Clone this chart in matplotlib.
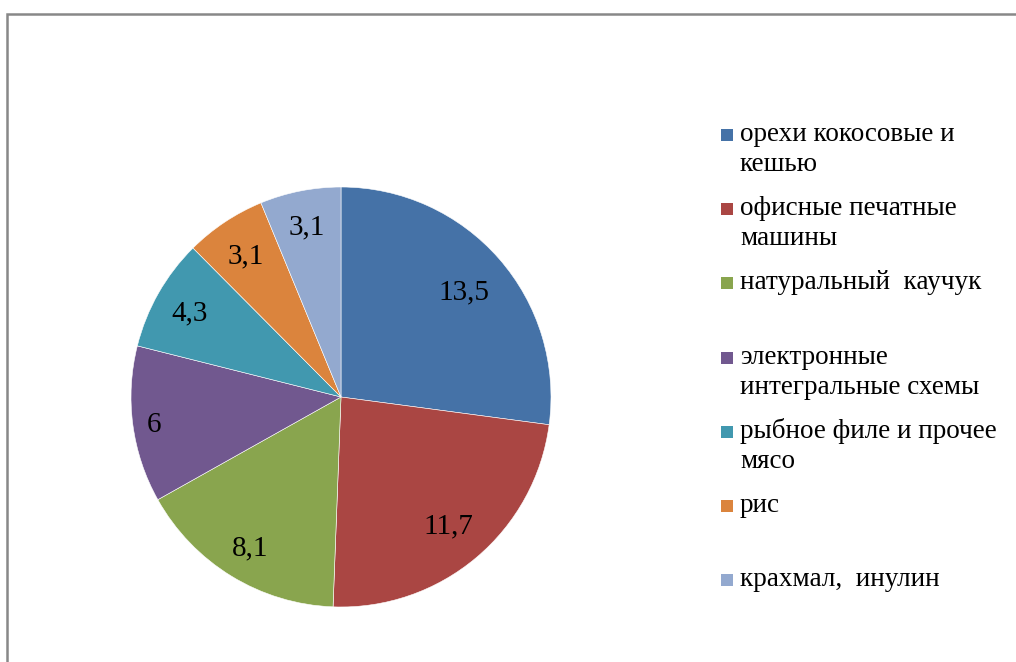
import numpy as np
import matplotlib
matplotlib.use("Agg")
import matplotlib.pyplot as plt
from matplotlib.patches import Rectangle

# ---- data ----
categories = [
    "орехи кокосовые и\nкешью",
    "офисные печатные\nмашины",
    "натуральный  каучук",
    "электронные\nинтегральные схемы",
    "рыбное филе и прочее\nмясо",
    "рис",
    "крахмал,  инулин",
]
values = [13.5, 11.7, 8.1, 6, 4.3, 3.1, 3.1]
colors = ["#4572A7", "#AA4643", "#89A54E", "#71588F", "#4198AF", "#DB843D", "#93A9CF"]

# label radial distances (style)
label_r = [0.78, 0.79, 0.83, 0.90, 0.83, 0.82, 0.84]

FONT = "Liberation Serif"
W, H = 1016, 662
fig = plt.figure(figsize=(W / 100, H / 100), dpi=100)
fig.patch.set_facecolor("white")

# outer border (chart area)
fig.patches.append(Rectangle((7 / W, -0.05), 1.2, 1 - 14 / H + 0.05, transform=fig.transFigure,
                             fill=False, edgecolor="#888888", linewidth=1.8))

cx, cy, R = 341, 397, 210
ax = fig.add_axes([(cx - R) / W, (H - cy - R) / H, 2 * R / W, 2 * R / H])
wedges, _ = ax.pie(values, colors=colors, startangle=90, counterclock=False,
                   radius=1, wedgeprops=dict(edgecolor="white", linewidth=0.4))
ax.set_xlim(-1, 1)
ax.set_ylim(-1, 1)
ax.set_aspect("equal")
ax.axis("off")

LFS = 21
for w, v, r in zip(wedges, values, label_r):
    ang = np.deg2rad((w.theta1 + w.theta2) / 2)
    txt = f"{v:g}".replace(".", ",")
    ax.annotate(txt, xy=(r * np.cos(ang), r * np.sin(ang)), xytext=(0, -0.34 * LFS),
                textcoords="offset points", ha="center", va="baseline",
                fontsize=LFS, family=FONT, color="black")

# legend (Excel-style, evenly spaced slots)
y0, step, line_h = 135, 74.2, 30
for i, (lab, col) in enumerate(zip(categories, colors)):
    yc = y0 + i * step
    fig.patches.append(Rectangle((721 / W, 1 - (yc + 6) / H), 12 / W, 12 / H,
                                 transform=fig.transFigure, facecolor=col, edgecolor="none"))
    for k, line in enumerate(lab.split("\n")):
        fig.text(740 / W, 1 - (yc + 6 + k * line_h) / H, line, ha="left", va="baseline",
                 fontsize=19.5, family=FONT, color="black")

fig.savefig("out.png", dpi=100)
